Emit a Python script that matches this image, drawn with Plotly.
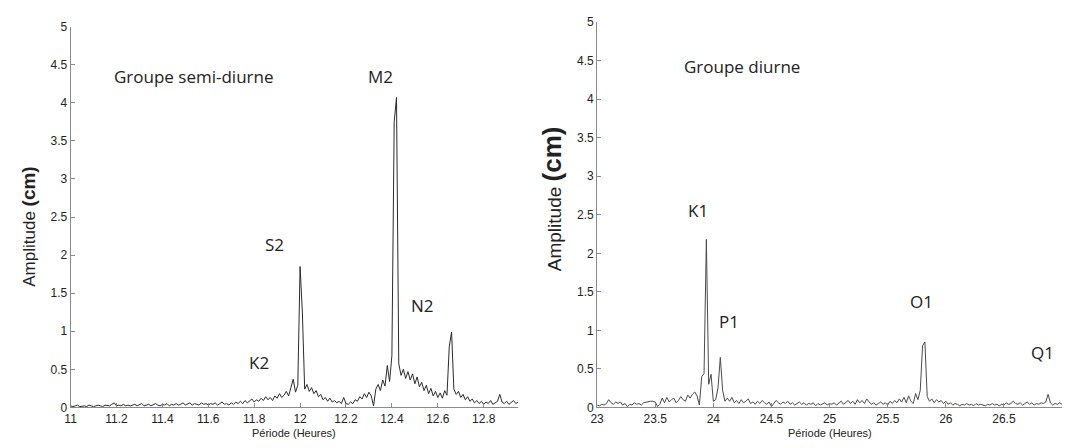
import numpy as np
import plotly.graph_objects as go

# --- Semi-diurnal group: amplitude spectrum sampled every 0.01 h from 11.00 h ---
SEMI_START = 11.00
SEMI_STEP = 0.01
semi_amplitude = [
    0.02, 0.01, 0.02, 0.03, 0.01, 0.02, 0.02, 0.01, 0.03, 0.02,
    0.01, 0.02, 0.03, 0.02, 0.01, 0.03, 0.02, 0.02, 0.04, 0.06,
    0.02, 0.03, 0.02, 0.04, 0.02, 0.03, 0.02, 0.03, 0.04, 0.02,
    0.03, 0.05, 0.02, 0.03, 0.04, 0.02, 0.03, 0.05, 0.03, 0.02,
    0.04, 0.03, 0.05, 0.02, 0.04, 0.03, 0.05, 0.03, 0.04, 0.06,
    0.03, 0.04, 0.06, 0.03, 0.05, 0.04, 0.03, 0.06, 0.04, 0.05,
    0.03, 0.05, 0.04, 0.06, 0.03, 0.05, 0.07, 0.04, 0.05, 0.03,
    0.06, 0.04, 0.07, 0.05, 0.08, 0.05, 0.09, 0.06, 0.08, 0.11,
    0.07, 0.10, 0.08, 0.12, 0.09, 0.14, 0.10, 0.13, 0.09, 0.15,
    0.12, 0.18, 0.13, 0.16, 0.21, 0.15, 0.26, 0.37, 0.20, 0.29,
    1.85, 1.24, 0.24, 0.30, 0.21, 0.26, 0.18, 0.22, 0.14, 0.17,
    0.10, 0.13, 0.08, 0.12, 0.07, 0.09, 0.06, 0.08, 0.05, 0.13,
    0.05, 0.04, 0.07, 0.05, 0.10, 0.08, 0.14, 0.11, 0.18, 0.13,
    0.20, 0.15, 0.02, 0.24, 0.30, 0.22, 0.36, 0.28, 0.55, 0.34,
    0.68, 3.75, 4.07, 0.57, 0.42, 0.50, 0.38, 0.47, 0.36, 0.44,
    0.31, 0.40, 0.27, 0.33, 0.22, 0.29, 0.18, 0.25, 0.15, 0.21,
    0.13, 0.19, 0.12, 0.22, 0.16, 0.80, 0.99, 0.24, 0.17, 0.21,
    0.13, 0.17, 0.10, 0.14, 0.08, 0.11, 0.06, 0.09, 0.05, 0.08,
    0.04, 0.07, 0.05, 0.09, 0.04, 0.06, 0.08, 0.17, 0.07, 0.05,
    0.08, 0.04, 0.06, 0.09, 0.05, 0.07,
]

# --- Diurnal group: amplitude spectrum sampled every 0.02 h from 23.00 h ---
DIURNAL_START = 23.00
DIURNAL_STEP = 0.02
diurnal_amplitude = [
    0.03, 0.02, 0.04, 0.03, 0.05, 0.10, 0.06, 0.04, 0.07, 0.05,
    0.07, 0.03, 0.05, 0.01, 0.04, 0.03, 0.06, 0.04, 0.05, 0.03,
    0.06, 0.07, 0.08, 0.08, 0.08, 0.07, 0.01, 0.04, 0.12, 0.06,
    0.13, 0.07, 0.10, 0.12, 0.06, 0.09, 0.14, 0.10, 0.08, 0.16,
    0.12, 0.17, 0.20, 0.15, 0.03, 0.40, 0.44, 2.18, 0.30, 0.43,
    0.08, 0.10, 0.25, 0.65, 0.22, 0.08, 0.12, 0.08, 0.13, 0.06,
    0.09, 0.05, 0.10, 0.06, 0.08, 0.11, 0.05, 0.07, 0.04, 0.08,
    0.05, 0.09, 0.06, 0.04, 0.07, 0.01, 0.05, 0.09, 0.06, 0.04,
    0.07, 0.05, 0.08, 0.04, 0.06, 0.03, 0.05, 0.07, 0.04, 0.06,
    0.03, 0.05, 0.04, 0.06, 0.02, 0.05, 0.03, 0.04, 0.06, 0.03,
    0.05, 0.04, 0.06, 0.03, 0.05, 0.08, 0.04, 0.06, 0.09, 0.05,
    0.08, 0.04, 0.10, 0.06, 0.09, 0.05, 0.11, 0.07, 0.04, 0.06,
    0.03, 0.05, 0.07, 0.04, 0.06, 0.03, 0.08, 0.05, 0.09, 0.06,
    0.11, 0.07, 0.13, 0.06, 0.15, 0.08, 0.05, 0.18, 0.10, 0.22,
    0.80, 0.85, 0.14, 0.08, 0.11, 0.06, 0.10, 0.07, 0.09, 0.05,
    0.08, 0.04, 0.06, 0.03, 0.05, 0.04, 0.02, 0.04, 0.03, 0.05,
    0.03, 0.04, 0.02, 0.05, 0.03, 0.04, 0.03, 0.02, 0.04, 0.03,
    0.05, 0.03, 0.04, 0.02, 0.04, 0.03, 0.06, 0.04, 0.05, 0.08,
    0.05, 0.04, 0.06, 0.03, 0.05, 0.07, 0.04, 0.06, 0.03, 0.05,
    0.04, 0.06, 0.05, 0.07, 0.17, 0.06, 0.03, 0.05, 0.04, 0.06,
    0.04,
]

# --- Axis ticks ---
semi_ticks = [11.0, 11.2, 11.4, 11.6, 11.8, 12.0, 12.2, 12.4, 12.6, 12.8]
semi_tick_labels = ["11", "11.2", "11.4", "11.6", "11.8", "12", "12.2", "12.4", "12.6", "12.8"]
diurnal_ticks = [23.0, 23.5, 24.0, 24.5, 25.0, 25.5, 26.0, 26.5, 27.0]
diurnal_tick_labels = ["23", "23.5", "24", "24.5", "25", "25.5", "26", "26.5", "27"]
amp_ticks = [0, 0.5, 1, 1.5, 2, 2.5, 3, 3.5, 4, 4.5, 5]
amp_tick_labels = ["0", "0.5", "1", "1.5", "2", "2.5", "3", "3.5", "4", "4.5", "5"]

# --- Constituent labels: (text, period, amplitude) ---
semi_labels = [("M2", 12.35, 4.34), ("S2", 11.89, 2.14), ("K2", 11.82, 0.59), ("N2", 12.535, 1.34)]
diurnal_labels = [("K1", 23.87, 2.56), ("P1", 24.135, 1.12), ("O1", 25.79, 1.38), ("Q1", 26.83, 0.71)]

semi_period = np.round(SEMI_START + SEMI_STEP * np.arange(len(semi_amplitude)), 3)
diurnal_period = np.round(DIURNAL_START + DIURNAL_STEP * np.arange(len(diurnal_amplitude)), 3)

W, H = 1068, 448
AXIS_COLOR = "#8a8a8a"
TICK_FONT = dict(family="Liberation Sans, Arial, sans-serif", size=12, color="#222222")
LABEL_FONT = dict(family="Open Sans, sans-serif", size=17, color="#222222")

fig = go.Figure()
fig.add_trace(go.Scatter(x=semi_period, y=semi_amplitude, mode="lines",
                         line=dict(color="#2b2b2b", width=1), xaxis="x", yaxis="y",
                         showlegend=False, hoverinfo="skip"))
fig.add_trace(go.Scatter(x=diurnal_period, y=diurnal_amplitude, mode="lines",
                         line=dict(color="#4a4a4a", width=1), xaxis="x2", yaxis="y2",
                         showlegend=False, hoverinfo="skip"))

axis_common = dict(showgrid=False, zeroline=False, showline=True, linecolor=AXIS_COLOR,
                   linewidth=1, ticks="inside", ticklen=4, tickcolor=AXIS_COLOR,
                   tickwidth=1, tickfont=TICK_FONT, mirror=False)

fig.update_layout(
    width=W, height=H,
    margin=dict(l=0, r=0, t=0, b=0),
    paper_bgcolor="white", plot_bgcolor="white",
    xaxis=dict(domain=[64 / W, 514.5 / W], range=[11.0, 12.95], anchor="y",
               tickvals=semi_ticks, ticktext=semi_tick_labels, **axis_common),
    yaxis=dict(domain=[(H - 413.3) / H, (H - 20.3) / H], range=[0, 5], anchor="x",
               tickvals=amp_ticks, ticktext=amp_tick_labels, **axis_common),
    xaxis2=dict(domain=[594 / W, 1062 / W], range=[23.0, 27.0], anchor="y2",
                tickvals=diurnal_ticks, ticktext=diurnal_tick_labels, **axis_common),
    yaxis2=dict(domain=[(H - 413.3) / H, (H - 15.7) / H], range=[0, 5], anchor="x2",
                tickvals=amp_ticks, ticktext=amp_tick_labels, **axis_common),
)

annotations = []
# Group titles
annotations.append(dict(text="Groupe semi-diurne", x=11.18, y=4.35, xref="x", yref="y",
                        xanchor="left", yanchor="middle", showarrow=False, font=LABEL_FONT))
annotations.append(dict(text="Groupe diurne", x=23.73, y=4.42, xref="x2", yref="y2",
                        xanchor="left", yanchor="middle", showarrow=False, font=LABEL_FONT))
for text, px, py in semi_labels:
    annotations.append(dict(text=text, x=px, y=py, xref="x", yref="y", showarrow=False,
                            xanchor="center", yanchor="middle", font=LABEL_FONT))
for text, px, py in diurnal_labels:
    annotations.append(dict(text=text, x=px, y=py, xref="x2", yref="y2", showarrow=False,
                            xanchor="center", yanchor="middle", font=LABEL_FONT))

# Axis titles
XTITLE_FONT = dict(family="Liberation Sans, Arial, sans-serif", size=11, color="#222222")
for cx in [(64 + 514.5) / 2 / W, (594 + 1062) / 2 / W]:
    annotations.append(dict(text="Période (Heures)", x=cx, y=(H - 440) / H, xref="paper",
                            yref="paper", showarrow=False, xanchor="center", yanchor="middle",
                            font=XTITLE_FONT))
annotations.append(dict(text='Amplitude <b><span style="font-size:19px">(cm)</span></b>',
                        x=22 / W, y=(H - 227) / H, xref="paper", yref="paper",
                        showarrow=False, textangle=-90, xanchor="center", yanchor="middle",
                        font=dict(family="Liberation Sans, Arial, sans-serif", size=17, color="#222222")))
annotations.append(dict(text='Amplitude <b><span style="font-size:26px">(cm)</span></b>',
                        x=548 / W, y=(H - 198) / H, xref="paper", yref="paper",
                        showarrow=False, textangle=-90, xanchor="center", yanchor="middle",
                        font=dict(family="Liberation Sans, Arial, sans-serif", size=19, color="#222222")))

fig.update_layout(annotations=annotations)
fig.write_html("out.html")
